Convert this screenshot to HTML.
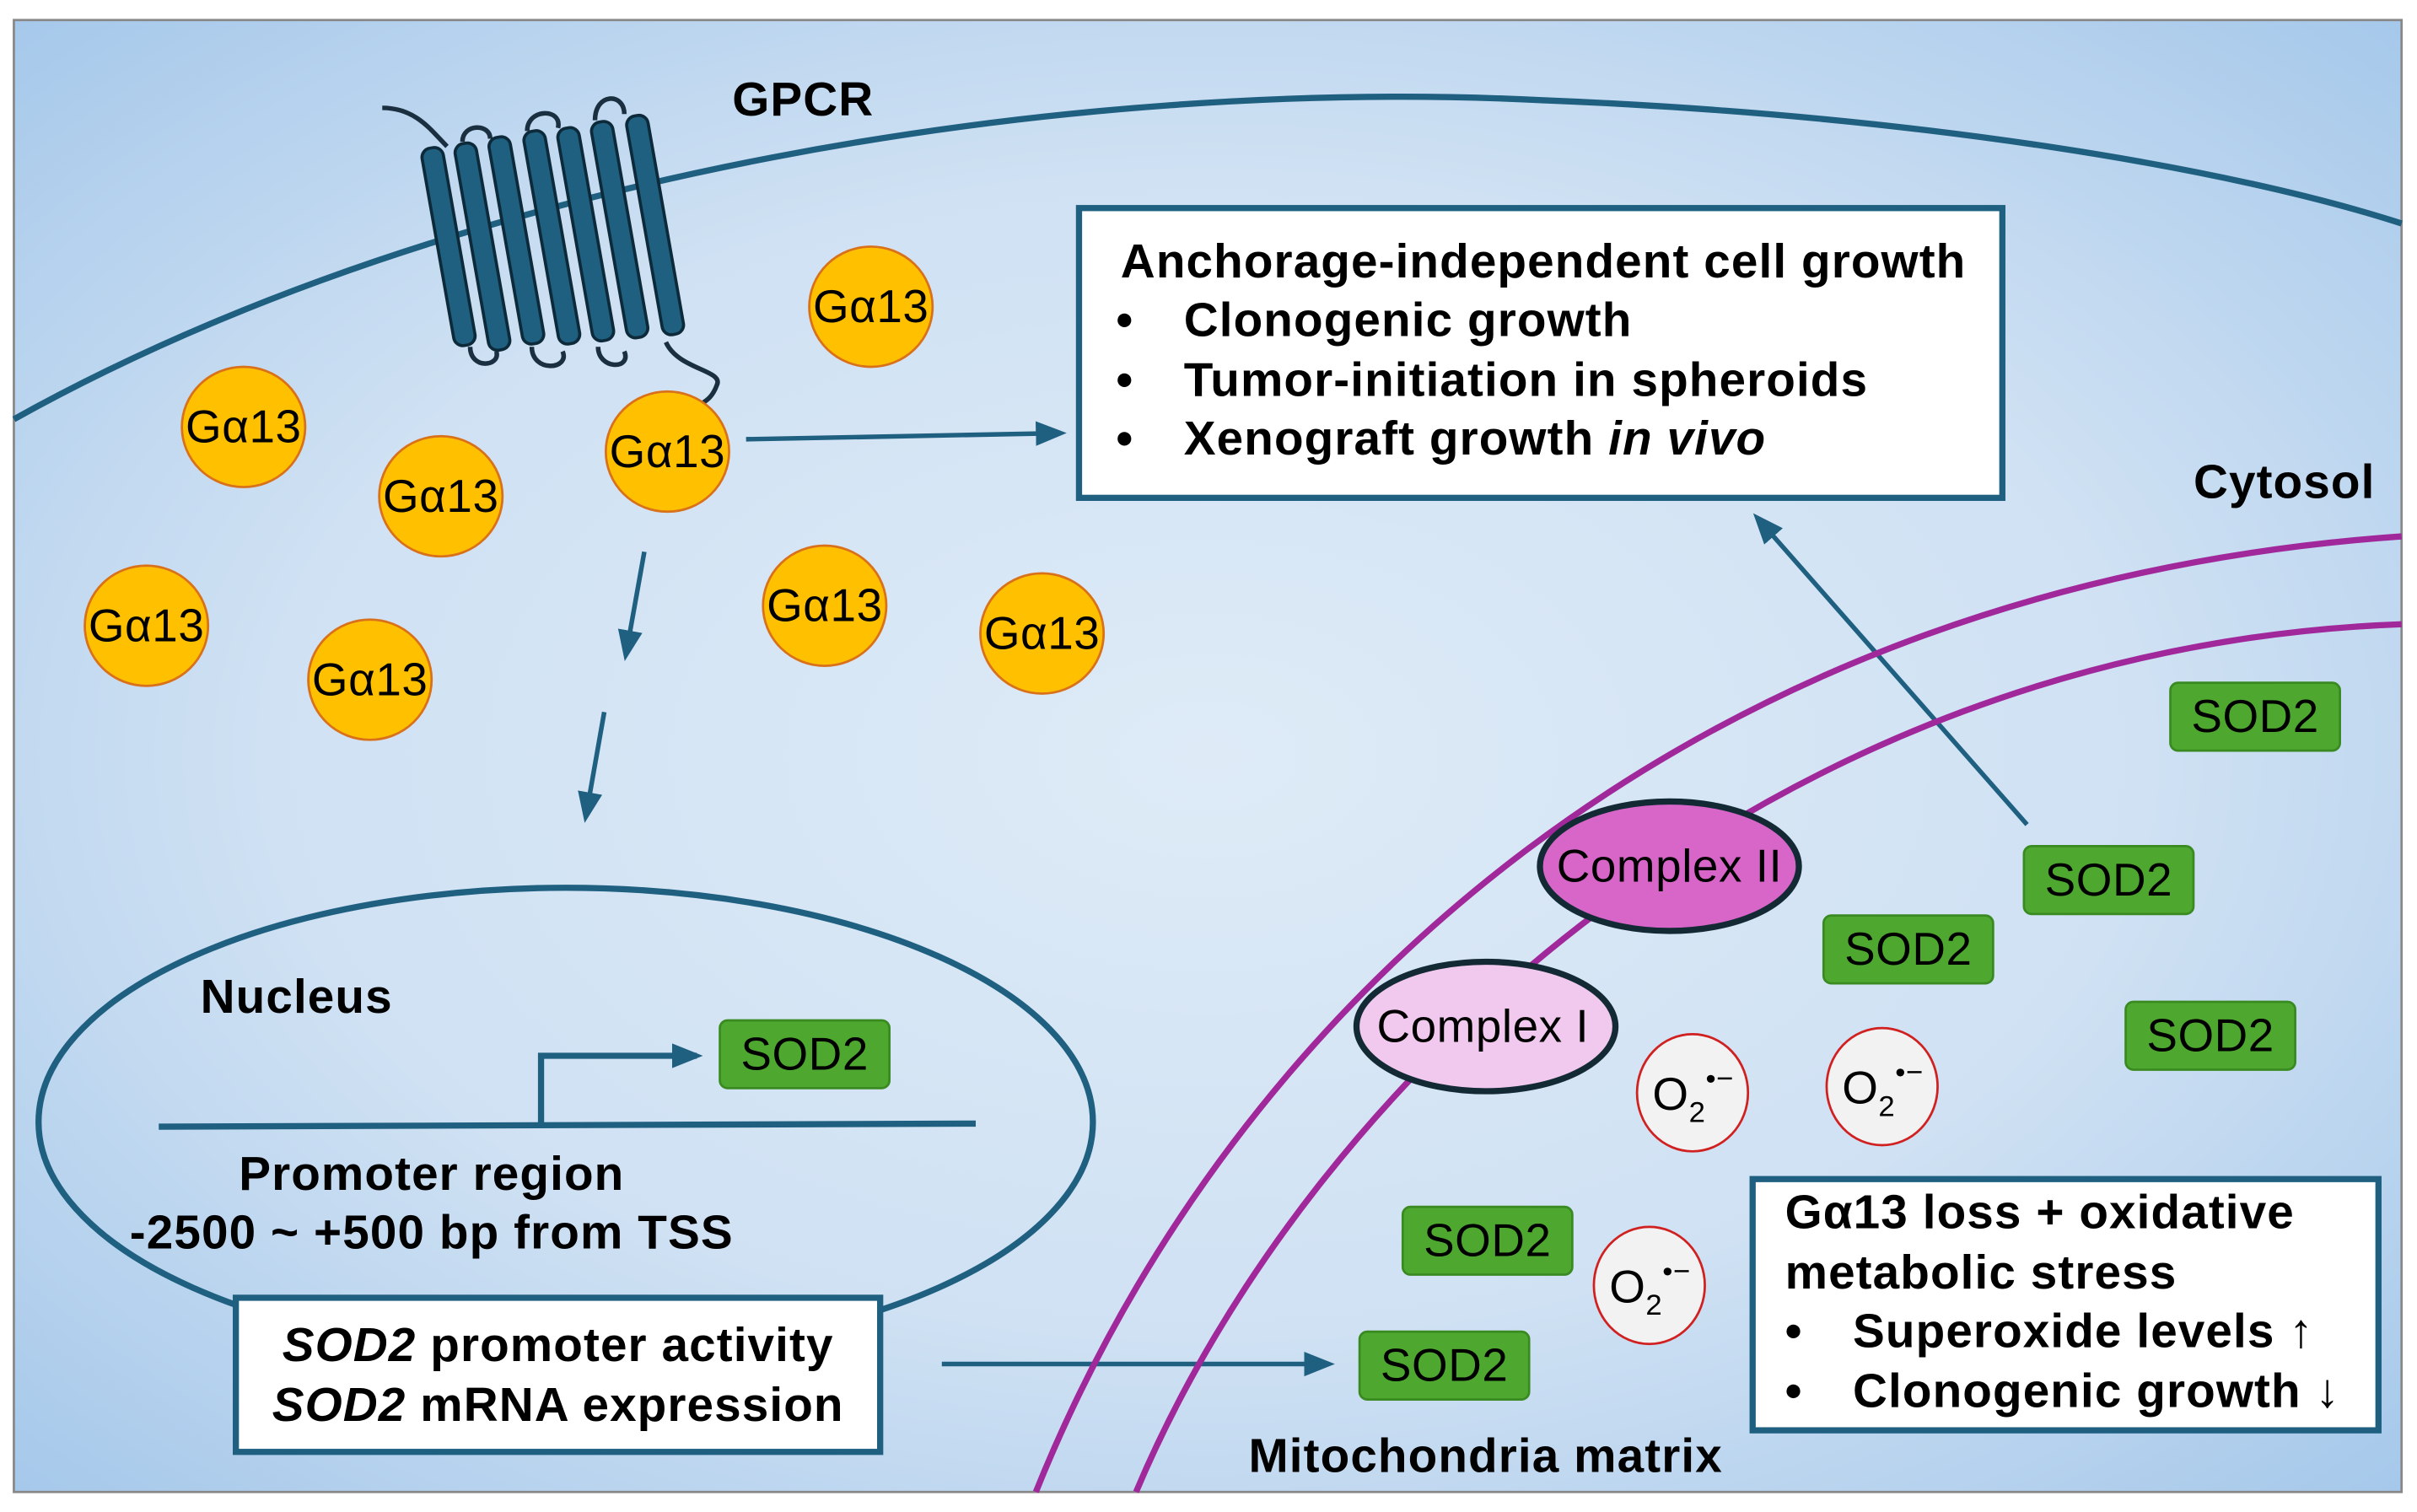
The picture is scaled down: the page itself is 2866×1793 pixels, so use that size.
<!DOCTYPE html>
<html><head><meta charset="utf-8"><style>
html,body{margin:0;padding:0;background:#fff;width:2866px;height:1793px;overflow:hidden}
svg{display:block}
text{font-family:"Liberation Sans",Arial,sans-serif;fill:#000}
.b{font-weight:bold;font-size:31px;letter-spacing:0.6px}
.g{font-size:30px;letter-spacing:0.3px}
</style></head><body>
<svg width="2866" height="1793" viewBox="0 0 1568 981" preserveAspectRatio="none" xmlns="http://www.w3.org/2000/svg">
<defs>
<radialGradient id="bg" cx="0.5" cy="0.5" r="0.72">
<stop offset="0" stop-color="#deebf7"/><stop offset="0.55" stop-color="#cfe1f3"/><stop offset="1" stop-color="#a4c7ea"/>
</radialGradient>
<marker id="ah2" markerWidth="20" markerHeight="20" refX="16" refY="10" orient="auto" markerUnits="userSpaceOnUse" viewBox="0 0 20 20">
<path d="M0,2 L20,10 L0,18 z" fill="#1f5f80"/></marker>
</defs>
<rect x="0" y="0" width="1568" height="981" fill="#fff"/>
<rect x="9" y="13" width="1549" height="955" fill="url(#bg)" stroke="#888" stroke-width="1.5"/>
<path d="M9,272 C300,110 700,50 1000,65 C1250,75 1450,110 1558,145" fill="none" stroke="#1f5f80" stroke-width="4"/>
<g fill="#1f5f80" stroke="#0d2a3a" stroke-width="2">
<path d="M248,70 C270,70 280,85 290,95" fill="none" stroke="#1a3040" stroke-width="3"/>
<path d="M300,92 C300,80 318,80 318,90 M342,85 C342,70 365,70 362,83 M386,78 C386,60 405,60 405,74 M305,225 C305,240 325,238 322,228 M345,225 C345,242 370,240 365,228 M388,225 C388,240 410,240 405,228" fill="none" stroke="#1a3040" stroke-width="3"/>
<path d="M432,222 C440,240 470,240 465,250 C462,258 458,260 455,262" fill="none" stroke="#1a3040" stroke-width="3"/>
<rect x="284" y="95" width="14" height="130" rx="6" transform="rotate(-10 291 160)"/>
<rect x="306" y="92" width="14" height="136" rx="6" transform="rotate(-10 313 160)"/>
<rect x="328" y="88" width="14" height="136" rx="6" transform="rotate(-10 335 156)"/>
<rect x="351" y="84" width="14" height="140" rx="6" transform="rotate(-10 358 154)"/>
<rect x="373" y="82" width="14" height="140" rx="6" transform="rotate(-10 380 152)"/>
<rect x="395" y="78" width="14" height="142" rx="6" transform="rotate(-10 402 149)"/>
<rect x="418" y="74" width="14" height="144" rx="6" transform="rotate(-10 425 146)"/>
</g>
<text x="475" y="75" class="b">GPCR</text>
<g fill="#ffc000" stroke="#d9701a" stroke-width="1.5">
<ellipse cx="158" cy="277" rx="40" ry="39"/><ellipse cx="286" cy="322" rx="40" ry="39"/>
<ellipse cx="433" cy="293" rx="40" ry="39"/><ellipse cx="565" cy="199" rx="40" ry="39"/>
<ellipse cx="95" cy="406" rx="40" ry="39"/><ellipse cx="240" cy="441" rx="40" ry="39"/>
<ellipse cx="535" cy="393" rx="40" ry="39"/><ellipse cx="676" cy="411" rx="40" ry="39"/>
</g>
<g text-anchor="middle">
<text x="158" y="287" class="g">Gα13</text><text x="286" y="332" class="g">Gα13</text>
<text x="433" y="303" class="g">Gα13</text><text x="565" y="209" class="g">Gα13</text>
<text x="95" y="416" class="g">Gα13</text><text x="240" y="451" class="g">Gα13</text>
<text x="535" y="403" class="g">Gα13</text><text x="676" y="421" class="g">Gα13</text>
</g>
<g stroke="#1f5f80" stroke-width="3" fill="none">
<line x1="484" y1="285" x2="688" y2="281" marker-end="url(#ah2)"/>
<line x1="418" y1="358" x2="406" y2="425" marker-end="url(#ah2)"/>
<line x1="392" y1="462" x2="380" y2="530" marker-end="url(#ah2)"/>
<line x1="1315" y1="535" x2="1140" y2="336" marker-end="url(#ah2)"/>
<line x1="611" y1="885" x2="862" y2="885" marker-end="url(#ah2)"/>
</g>
<rect x="700" y="135" width="599" height="188" fill="#fff" stroke="#1f5f80" stroke-width="4"/>
<text x="727" y="180" class="b">Anchorage-independent cell growth</text>
<text x="724" y="218" class="b">•</text><text x="768" y="218" class="b">Clonogenic growth</text>
<text x="724" y="257" class="b">•</text><text x="768" y="257" class="b">Tumor-initiation in spheroids</text>
<text x="724" y="295" class="b">•</text><text x="768" y="295" class="b">Xenograft growth <tspan font-style="italic">in vivo</tspan></text>
<text x="1423" y="323" class="b">Cytosol</text>
<path d="M672,968 C800,650 1100,380 1558,348" fill="none" stroke="#a0289a" stroke-width="4"/>
<path d="M737,968 C850,700 1150,420 1558,405" fill="none" stroke="#a0289a" stroke-width="4"/>
<ellipse cx="1083" cy="562" rx="84" ry="42" fill="#d766c8" stroke="#132a35" stroke-width="4"/>
<text x="1083" y="572" class="g" text-anchor="middle">Complex II</text>
<ellipse cx="964" cy="666" rx="84" ry="42" fill="#f2c9ee" stroke="#132a35" stroke-width="4"/>
<text x="962" y="676" class="g" text-anchor="middle">Complex I</text>
<g fill="#f2f2f2" stroke="#d02020" stroke-width="1.5">
<ellipse cx="1098" cy="709" rx="36" ry="38"/><ellipse cx="1221" cy="705" rx="36" ry="38"/><ellipse cx="1070" cy="834" rx="36" ry="38"/>
</g>
<text x="1072" y="720" class="g">O<tspan font-size="19" dy="8">2</tspan><tspan font-size="19" dy="-22">•−</tspan></text>
<text x="1195" y="716" class="g">O<tspan font-size="19" dy="8">2</tspan><tspan font-size="19" dy="-22">•−</tspan></text>
<text x="1044" y="845" class="g">O<tspan font-size="19" dy="8">2</tspan><tspan font-size="19" dy="-22">•−</tspan></text>
<g fill="#4ea72e" stroke="#3a8a22" stroke-width="1.5">
<rect x="1408" y="443" width="110" height="44" rx="5"/><rect x="1313" y="549" width="110" height="44" rx="5"/>
<rect x="1183" y="594" width="110" height="44" rx="5"/><rect x="1379" y="650" width="110" height="44" rx="5"/>
<rect x="910" y="783" width="110" height="44" rx="5"/><rect x="882" y="864" width="110" height="44" rx="5"/>
<rect x="467" y="662" width="110" height="44" rx="5"/>
</g>
<g text-anchor="middle">
<text x="1463" y="475" class="g">SOD2</text><text x="1368" y="581" class="g">SOD2</text>
<text x="1238" y="626" class="g">SOD2</text><text x="1434" y="682" class="g">SOD2</text>
<text x="965" y="815" class="g">SOD2</text><text x="937" y="896" class="g">SOD2</text>
<text x="522" y="694" class="g">SOD2</text>
</g>
<rect x="1137" y="765" width="406" height="163" fill="#fff" stroke="#1f5f80" stroke-width="4"/>
<text x="1158" y="797" class="b">Gα13 loss + oxidative</text>
<text x="1158" y="836" class="b">metabolic stress</text>
<text x="1158" y="874" class="b">•</text><text x="1202" y="874" class="b">Superoxide levels ↑</text>
<text x="1158" y="913" class="b">•</text><text x="1202" y="913" class="b">Clonogenic growth ↓</text>
<text x="810" y="955" class="b">Mitochondria matrix</text>
<ellipse cx="367" cy="728" rx="342" ry="152" fill="none" stroke="#1f5f80" stroke-width="4"/>
<text x="130" y="657" class="b">Nucleus</text>
<line x1="103" y1="731" x2="633" y2="729" stroke="#1f5f80" stroke-width="4"/>
<path d="M351,730 L351,685 L452,685" fill="none" stroke="#1f5f80" stroke-width="4" marker-end="url(#ah2)"/>
<text x="280" y="772" class="b" text-anchor="middle">Promoter region</text>
<text x="280" y="810" class="b" text-anchor="middle">-2500 ~ +500 bp from TSS</text>
<rect x="153" y="842" width="418" height="100" fill="#fff" stroke="#1f5f80" stroke-width="4"/>
<text x="362" y="883" class="b" text-anchor="middle"><tspan font-style="italic">SOD2</tspan> promoter activity</text>
<text x="362" y="922" class="b" text-anchor="middle"><tspan font-style="italic">SOD2</tspan> mRNA expression</text>
</svg>
</body></html>
